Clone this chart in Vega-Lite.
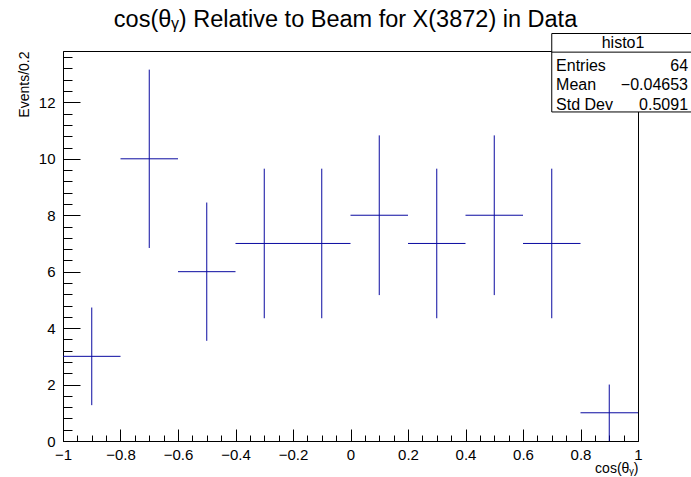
{
  "$schema": "https://vega.github.io/schema/vega-lite/v6.json",
  "width": 575,
  "height": 390,
  "autosize": {"type": "none"},
  "padding": {"left": 63, "top": 51, "right": 53, "bottom": 36},
  "background": "white",
  "config": {
    "view": {"stroke": "black", "strokeWidth": 1},
    "font": "Liberation Sans",
    "axis": {"grid": false, "domainColor": "black", "tickColor": "black", "labelColor": "black", "titleColor": "black", "labelFont": "Liberation Sans", "titleFont": "Liberation Sans", "titleFontWeight": "normal", "labelFontSize": 15, "titleFontSize": 14}
  },
  "title": {"text": "cos(θᵧ) Relative to Beam for X(3872) in Data", "font": "Liberation Sans", "fontSize": 23.5, "fontWeight": "normal", "color": "black", "anchor": "middle", "frame": "group", "baseline": "alphabetic", "offset": -17, "dx": -5},
  "data": {"values": [
    {"bin_start": -1.0, "bin_end": -0.8, "center": -0.9, "count": 3, "ylo": 1.27, "yhi": 4.73},
    {"bin_start": -0.8, "bin_end": -0.6, "center": -0.7, "count": 10, "ylo": 6.84, "yhi": 13.16},
    {"bin_start": -0.6, "bin_end": -0.4, "center": -0.5, "count": 6, "ylo": 3.55, "yhi": 8.45},
    {"bin_start": -0.4, "bin_end": -0.2, "center": -0.3, "count": 7, "ylo": 4.35, "yhi": 9.65},
    {"bin_start": -0.2, "bin_end": 0.0, "center": -0.1, "count": 7, "ylo": 4.35, "yhi": 9.65},
    {"bin_start": 0.0, "bin_end": 0.2, "center": 0.1, "count": 8, "ylo": 5.17, "yhi": 10.83},
    {"bin_start": 0.2, "bin_end": 0.4, "center": 0.3, "count": 7, "ylo": 4.35, "yhi": 9.65},
    {"bin_start": 0.4, "bin_end": 0.6, "center": 0.5, "count": 8, "ylo": 5.17, "yhi": 10.83},
    {"bin_start": 0.6, "bin_end": 0.8, "center": 0.7, "count": 7, "ylo": 4.35, "yhi": 9.65},
    {"bin_start": 0.8, "bin_end": 1.0, "center": 0.9, "count": 1, "ylo": 0, "yhi": 2}
  ]},
  "layer": [
    {
      "mark": {"type": "rule", "color": "#0a0aa0", "strokeWidth": 1},
      "encoding": {
        "x": {"field": "bin_start", "type": "quantitative",
          "scale": {"domain": [-1, 1], "nice": false, "zero": false},
          "axis": {
            "title": "cos(θᵧ)", "titleAnchor": "end", "titleAlign": "right", "titleX": 575, "titleY": 31, "titleBaseline": "alphabetic",
            "values": [-1, -0.95, -0.9, -0.85, -0.8, -0.75, -0.7, -0.65, -0.6, -0.55, -0.5, -0.45, -0.4, -0.35, -0.3, -0.25, -0.2, -0.15, -0.1, -0.05, 0, 0.05, 0.1, 0.15, 0.2, 0.25, 0.3, 0.35, 0.4, 0.45, 0.5, 0.55, 0.6, 0.65, 0.7, 0.75, 0.8, 0.85, 0.9, 0.95, 1],
            "tickCount": 1000,
            "format": "~g",
            "labelExpr": "abs(datum.value*5 - round(datum.value*5)) < 1e-6 ? datum.label : ''",
            "tickSize": {"condition": {"test": "abs(datum.value*5 - round(datum.value*5)) < 1e-6", "value": -12}, "value": -6},
            "labelPadding": 18, "labelFlush": false, "labelOverlap": false
          }},
        "x2": {"field": "bin_end"},
        "y": {"field": "count", "type": "quantitative",
          "scale": {"domain": [0, 13.82], "nice": false},
          "axis": {
            "title": "Events/0.2", "titleAngle": -90, "titleAlign": "right", "titleAnchor": "end", "titleX": -35, "titleY": 0, "titleBaseline": "alphabetic",
            "values": [0, 0.4, 0.8, 1.2, 1.6, 2, 2.4, 2.8, 3.2, 3.6, 4, 4.4, 4.8, 5.2, 5.6, 6, 6.4, 6.8, 7.2, 7.6, 8, 8.4, 8.8, 9.2, 9.6, 10, 10.4, 10.8, 11.2, 11.6, 12, 12.4, 12.8, 13.2, 13.6],
            "tickCount": 1000,
            "format": "~g",
            "labelExpr": "datum.value % 2 === 0 ? datum.label : ''",
            "tickSize": {"condition": {"test": "datum.value % 2 === 0", "value": -17}, "value": -9},
            "labelPadding": 25, "labelOverlap": false
          }}
      }
    },
    {
      "mark": {"type": "rule", "color": "#0a0aa0", "strokeWidth": 1},
      "encoding": {
        "x": {"field": "center", "type": "quantitative"},
        "y": {"field": "ylo", "type": "quantitative"},
        "y2": {"field": "yhi"}
      }
    },
    {
      "data": {"values": [{}]},
      "mark": {"type": "rect", "fill": "white", "stroke": "black", "strokeWidth": 1, "clip": false},
      "encoding": {
        "x": {"datum": 0.7, "type": "quantitative"},
        "x2": {"datum": 1.19},
        "y": {"datum": 14.44, "type": "quantitative"},
        "y2": {"datum": 11.66}
      }
    },
    {
      "data": {"values": [{}]},
      "mark": {"type": "rule", "color": "black", "strokeWidth": 1, "clip": false},
      "encoding": {
        "x": {"datum": 0.7, "type": "quantitative"},
        "x2": {"datum": 1.19},
        "y": {"datum": 13.78, "type": "quantitative"}
      }
    },
    {
      "data": {"values": [{}]},
      "mark": {"type": "text", "font": "Liberation Sans", "fontSize": 16, "fill": "black", "align": "center", "baseline": "middle", "clip": false},
      "encoding": {
        "x": {"datum": 0.948, "type": "quantitative"},
        "y": {"datum": 14.1, "type": "quantitative"},
        "text": {"value": "histo1"}
      }
    },
    {
      "data": {"values": [{}]},
      "mark": {"type": "text", "font": "Liberation Sans", "fontSize": 16, "fill": "black", "align": "left", "baseline": "middle", "lineHeight": 19.5, "clip": false},
      "encoding": {
        "x": {"datum": 0.715, "type": "quantitative"},
        "y": {"datum": 13.29, "type": "quantitative"},
        "text": {"value": ["Entries", "Mean", "Std Dev"]}
      }
    },
    {
      "data": {"values": [{}]},
      "mark": {"type": "text", "font": "Liberation Sans", "fontSize": 16, "fill": "black", "align": "right", "baseline": "middle", "lineHeight": 19.5, "clip": false},
      "encoding": {
        "x": {"datum": 1.174, "type": "quantitative"},
        "y": {"datum": 13.29, "type": "quantitative"},
        "text": {"value": ["64", "−0.04653", "0.5091"]}
      }
    }
  ]
}
